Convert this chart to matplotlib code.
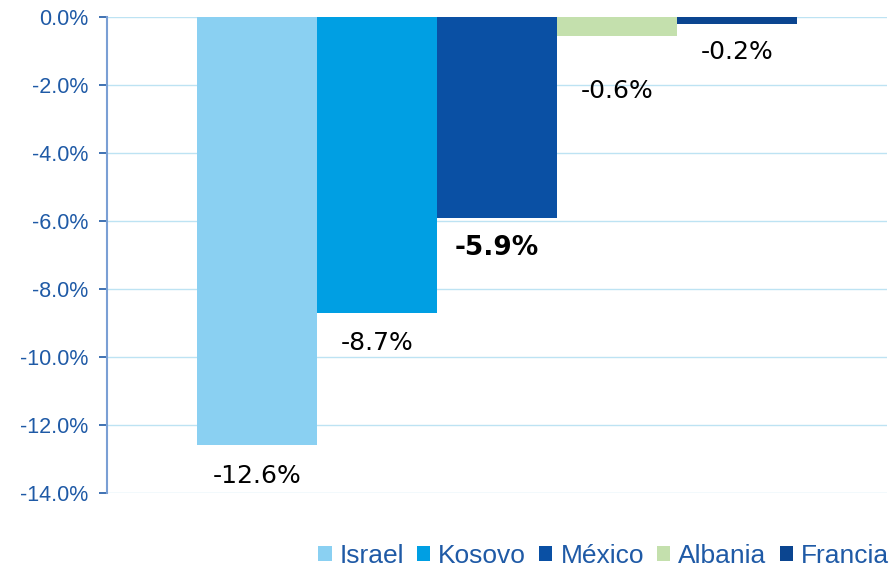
import numpy as np
import matplotlib.pyplot as plt
from matplotlib.ticker import FuncFormatter

countries = ["Israel", "Kosovo", "México", "Albania", "Francia"]
values = [-12.6, -8.7, -5.9, -0.55, -0.2]
labels = ["-12.6%", "-8.7%", "-5.9%", "-0.6%", "-0.2%"]
colors = ["#8ad0f2", "#009fe3", "#0a50a4", "#c4e0ad", "#0b4590"]
yticks = np.arange(-14, 0.1, 2)

tick_blue = "#1f5aa6"

fig = plt.figure(figsize=(8.93, 5.73), dpi=100)
ax = fig.add_axes([107 / 893, 1 - 493 / 573, 780 / 893, 476 / 573])

x = np.arange(len(countries))
bars = ax.bar(x, values, width=1.0, color=colors, label=countries, zorder=2)

# label offsets below bar ends (points); Albania's sits lower in the original
offsets = [-22, -22, -22, -40, -20]
for i, (v, lab) in enumerate(zip(values, labels)):
    bold = countries[i] == "México"
    ax.annotate(lab, (x[i], v), xytext=(0, offsets[i]), textcoords="offset points",
                ha="center", va="center", fontsize=19 if bold else 18, color="black",
                fontweight="bold" if bold else "normal", family="DejaVu Sans")

ax.set_xlim(-1.25, 5.25)
ax.set_ylim(-14, 0)
ax.set_yticks(yticks)
ax.yaxis.set_major_formatter(FuncFormatter(lambda v, p: f"{v:.1f}%"))
ax.set_xticks([])
ax.grid(axis="y", color="#bde3f3", linewidth=1, zorder=0)
for s in ["top", "right", "bottom"]:
    ax.spines[s].set_visible(False)
ax.spines["left"].set_color("#7a9fd4")
ax.spines["left"].set_linewidth(1.5)
ax.tick_params(axis="y", direction="out", length=6, width=1.2, color=tick_blue,
               labelcolor=tick_blue, labelsize=15.5, pad=7.5)
for t in ax.get_yticklabels():
    t.set_family("Liberation Sans")

leg = fig.legend(handles=bars.patches, labels=countries, loc="lower right",
                 bbox_to_anchor=(1.022, -0.033), ncol=5, frameon=False,
                 handlelength=0.5, handleheight=0.5, handletextpad=0.3,
                 columnspacing=0.5, prop={"family": "Liberation Sans", "size": 19})
for t in leg.get_texts():
    t.set_color(tick_blue)

fig.savefig("out.png", dpi=100)
